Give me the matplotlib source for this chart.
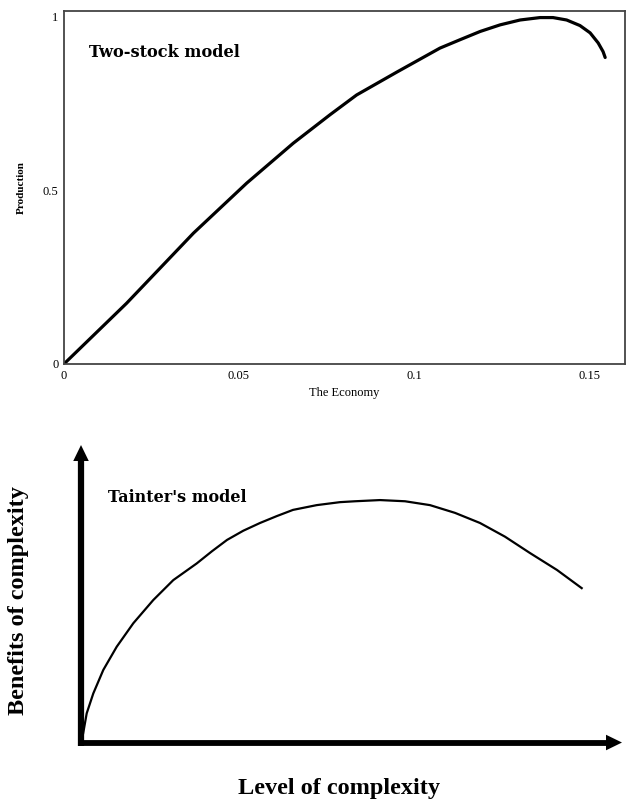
import matplotlib
matplotlib.use("Agg")
import matplotlib.pyplot as plt

plt.rcParams["font.family"] = ["Liberation Serif", "DejaVu Serif"]

# --- Two-stock model (top panel) ---
economy = [0.0, 0.0179, 0.0370, 0.0522, 0.0655, 0.0760, 0.0836, 0.0951,
           0.1074, 0.1131, 0.1189, 0.1246, 0.1303, 0.1360, 0.1397, 0.1436,
           0.1474, 0.1503, 0.1526, 0.1540, 0.1546]
production = [0.0, 0.175, 0.377, 0.521, 0.636, 0.718, 0.775, 0.841,
              0.910, 0.934, 0.958, 0.977, 0.991, 0.998, 0.998, 0.991,
              0.975, 0.954, 0.925, 0.900, 0.883]
x_ticks = [0, 0.05, 0.1, 0.15]
x_tick_labels = ["0", "0.05", "0.1", "0.15"]
y_ticks = [0, 0.5, 1]
y_tick_labels = ["0", "0.5", "1"]

# --- Tainter's model (bottom panel), relative units ---
complexity = [0.0, 0.004, 0.0105, 0.0227, 0.0412, 0.066, 0.0967, 0.1336,
              0.1706, 0.2139, 0.2421, 0.2699, 0.3000, 0.3309, 0.3617, 0.3919,
              0.4357, 0.4787, 0.5065, 0.5527, 0.5989, 0.6451, 0.6913, 0.7375,
              0.7837, 0.8299, 0.8799, 0.9255]
benefits = [0.0, 0.031, 0.098, 0.165, 0.244, 0.322, 0.401, 0.479,
            0.546, 0.602, 0.643, 0.681, 0.712, 0.738, 0.761, 0.782,
            0.798, 0.808, 0.811, 0.815, 0.811, 0.798, 0.772, 0.738,
            0.692, 0.637, 0.580, 0.519]

fig = plt.figure(figsize=(6.27, 8.01), dpi=100)

# top panel
ax1 = fig.add_axes([0.102, 0.5456, 0.895, 0.4407])
ax1.plot(economy, production, color="black", lw=2.3,
         solid_capstyle="round", solid_joinstyle="round")
ax1.set_xlim(0, 0.1603)
ax1.set_ylim(0, 1.017)
ax1.set_xticks(x_ticks)
ax1.set_xticklabels(x_tick_labels)
ax1.set_yticks(y_ticks)
ax1.set_yticklabels(y_tick_labels)
ax1.tick_params(length=0, labelsize=9, pad=4)
for s in ax1.spines.values():
    s.set_color("#444444")
    s.set_linewidth(1.3)
ax1.set_xlabel("The Economy", fontsize=9, labelpad=4)
ax1.set_ylabel("Production", fontsize=8, fontweight="bold", labelpad=12)
ax1.text(0.045, 0.881, "Two-stock model", transform=ax1.transAxes,
         fontsize=11.6, fontweight="bold", family=["DejaVu Serif"],
         va="center", ha="left")

# bottom panel: hand-drawn style axes with arrows
ax2 = fig.add_axes([0.1292, 0.0730, 0.8628, 0.3714])
ax2.plot(complexity, benefits, color="black", lw=1.6,
         solid_joinstyle="round")
ax2.set_xlim(0, 1)
ax2.set_ylim(0, 1)
ax2.axis("off")
ax2.plot([0, 0], [-0.01, 0.97], color="black", lw=4.5,
         solid_capstyle="butt", clip_on=False)
ax2.plot([-0.006, 0.975], [0, 0], color="black", lw=4.2,
         solid_capstyle="butt", clip_on=False)
head = dict(arrowstyle="-|>,head_length=1.15,head_width=0.56",
            lw=0, fc="black", shrinkA=0, shrinkB=0)
ax2.annotate("", xy=(0, 1.0), xytext=(0, 0.9), xycoords="axes fraction",
             arrowprops=head, annotation_clip=False)
ax2.annotate("", xy=(1.0, 0), xytext=(0.9, 0), xycoords="axes fraction",
             arrowprops=head, annotation_clip=False)
ax2.text(0.05, 0.823, "Tainter's model", transform=ax2.transAxes,
         fontsize=11.5, fontweight="bold", family=["DejaVu Serif"],
         va="center", ha="left")
fig.text(0.030, 0.25, "Benefits of complexity", rotation=90,
         fontsize=17.5, fontweight="bold", va="center", ha="center")
fig.text(0.54, 0.016, "Level of complexity",
         fontsize=17.5, fontweight="bold", va="center", ha="center")

fig.savefig("out.png", dpi=100)
